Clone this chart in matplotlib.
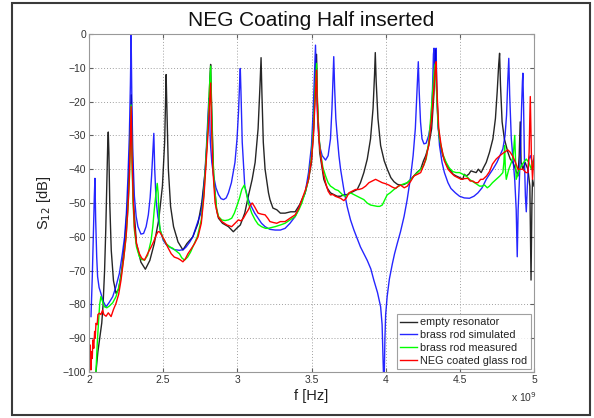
import matplotlib
matplotlib.use("Agg")
import matplotlib.pyplot as plt
from matplotlib.patches import Rectangle

plt.rcParams['font.family'] = ['Liberation Sans', 'DejaVu Sans']

# ---------------- data (f in GHz, S12 in dB) ----------------
black_f = [2.047, 2.06, 2.075, 2.086, 2.095, 2.105, 2.113, 2.12, 2.126, 2.13, 2.134, 2.14, 2.15, 2.165, 2.182, 2.2, 2.22, 2.24, 2.26, 2.272, 2.28, 2.285, 2.29, 2.3, 2.32, 2.35, 2.38, 2.41, 2.44, 2.47, 2.495, 2.51, 2.517, 2.52, 2.524, 2.535, 2.55, 2.57, 2.6, 2.633, 2.66, 2.7, 2.735, 2.76, 2.785, 2.805, 2.815, 2.82, 2.826, 2.84, 2.86, 2.873, 2.9, 2.94, 2.973, 3.0, 3.02, 3.05, 3.074, 3.1, 3.12, 3.14, 3.153, 3.16, 3.166, 3.175, 3.187, 3.21, 3.22, 3.24, 3.266, 3.29, 3.322, 3.36, 3.39, 3.42, 3.457, 3.48, 3.5, 3.515, 3.527, 3.534, 3.54, 3.555, 3.583, 3.605, 3.628, 3.65, 3.673, 3.696, 3.718, 3.74, 3.763, 3.786, 3.808, 3.83, 3.853, 3.876, 3.898, 3.915, 3.925, 3.93, 3.936, 3.948, 3.966, 3.99, 4.011, 4.035, 4.056, 4.08, 4.1, 4.125, 4.146, 4.17, 4.19, 4.21, 4.236, 4.255, 4.27, 4.29, 4.31, 4.325, 4.333, 4.336, 4.342, 4.355, 4.37, 4.385, 4.41, 4.43, 4.455, 4.475, 4.5, 4.52, 4.53, 4.543, 4.56, 4.575, 4.588, 4.61, 4.625, 4.644, 4.66, 4.678, 4.7, 4.723, 4.74, 4.752, 4.762, 4.768, 4.774, 4.785, 4.8, 4.824, 4.84, 4.858, 4.875, 4.892, 4.9, 4.907, 4.913, 4.925, 4.94, 4.959, 4.972, 4.98, 4.986, 4.99, 5.0]
black_db = [-100, -94, -89, -85.5, -80, -70, -58, -45, -33, -29, -35, -50, -64, -73, -76.7, -75.5, -70, -62, -50, -38, -25, -18, -30, -50, -62, -67.5, -69.6, -67, -62, -55, -45, -32, -18, -12, -20, -40, -51, -57, -61.5, -63.9, -62, -60, -56, -50, -40, -25, -13, -9, -20, -42, -52, -54.5, -56, -57, -58.5, -57.3, -56.5, -53, -48, -43, -38, -28, -15, -7, -18, -32, -40, -47, -49, -51.5, -52, -53, -53, -52.6, -52.6, -50.5, -47, -43, -38, -28, -12, -6, -20, -35, -43, -45.5, -47, -47.5, -48, -48, -47.6, -47.5, -47, -46.5, -46, -44, -41, -37, -31, -22, -12, -5.5, -14, -25, -33, -37.5, -40, -42.5, -43.7, -44.5, -44.7, -44.5, -44, -43, -42, -41, -40, -37.5, -36, -33, -28, -18, -8, -4.7, -15, -28, -33, -36, -38.5, -40, -41.5, -42, -42.5, -43, -41.5, -42, -41.5, -40.5, -40.7, -41, -40, -41, -39.5, -38, -35, -31, -25, -17, -9, -5.7, -15, -26, -31, -35, -37, -38, -40, -42, -36, -26, -38, -40, -38, -40, -45, -72.8, -50, -43, -45]

blue_f = [2.0135, 2.022, 2.03, 2.036, 2.04, 2.045, 2.052, 2.058, 2.068, 2.08, 2.095, 2.115, 2.135, 2.16, 2.18, 2.205, 2.225, 2.24, 2.252, 2.262, 2.272, 2.279, 2.284, 2.289, 2.296, 2.306, 2.318, 2.33, 2.35, 2.368, 2.385, 2.4, 2.412, 2.422, 2.43, 2.437, 2.443, 2.452, 2.464, 2.48, 2.5, 2.52, 2.543, 2.575, 2.61, 2.635, 2.655, 2.68, 2.7, 2.73, 2.757, 2.775, 2.79, 2.8, 2.808, 2.812, 2.818, 2.828, 2.84, 2.856, 2.873, 2.89, 2.907, 2.925, 2.94, 2.96, 2.984, 2.998, 3.008, 3.015, 3.02, 3.025, 3.033, 3.05, 3.07, 3.094, 3.117, 3.14, 3.163, 3.187, 3.22, 3.255, 3.29, 3.322, 3.355, 3.39, 3.42, 3.457, 3.48, 3.5, 3.512, 3.522, 3.527, 3.533, 3.542, 3.55, 3.56, 3.572, 3.595, 3.612, 3.628, 3.638, 3.645, 3.65, 3.656, 3.664, 3.673, 3.685, 3.696, 3.718, 3.74, 3.763, 3.786, 3.808, 3.83, 3.853, 3.876, 3.9, 3.92, 3.945, 3.966, 3.976, 3.982, 3.986, 3.99, 3.995, 4.0, 4.01, 4.025, 4.045, 4.06, 4.078, 4.1, 4.124, 4.145, 4.169, 4.185, 4.2, 4.21, 4.217, 4.22, 4.226, 4.235, 4.245, 4.258, 4.273, 4.29, 4.306, 4.316, 4.322, 4.326, 4.33, 4.336, 4.34, 4.345, 4.352, 4.363, 4.38, 4.396, 4.42, 4.44, 4.47, 4.498, 4.53, 4.565, 4.595, 4.622, 4.65, 4.678, 4.7, 4.723, 4.75, 4.77, 4.79, 4.805, 4.815, 4.823, 4.83, 4.836, 4.847, 4.86, 4.87, 4.88, 4.887, 4.893, 4.9, 4.908, 4.916, 4.922, 4.925, 4.93, 4.936, 4.942, 4.948, 4.955, 4.965, 4.975, 4.99, 5.0]
blue_db = [-83.6, -72, -58, -48, -42.7, -55, -66, -71.8, -75, -76.7, -79, -80.7, -79.5, -77.7, -75, -70.8, -65, -60, -53, -43, -30, -15, -0.3, -20, -36, -48, -54, -57, -59.2, -59, -57, -53.5, -48.5, -42, -35, -29.4, -40, -49, -54, -58, -61, -62.3, -63, -63.8, -64, -63.8, -63, -61.5, -60, -56, -52.6, -45, -35, -26, -19, -22, -32, -38, -42, -45.5, -47.5, -48.7, -49, -48.5, -47, -44, -38, -31, -23, -15, -10.2, -18, -32, -45, -48.5, -51, -53, -54.5, -56, -57, -57.8, -58, -58, -57.5, -56, -54, -51, -47, -41, -33, -22, -10, -3.3, -15, -26, -31, -34, -36, -37.3, -36, -31, -22, -13, -6.7, -16, -25, -30, -36, -40, -46, -51, -55, -58, -60.5, -63, -65, -67, -69.5, -72.8, -76.5, -80.7, -86, -95, -102, -102, -90, -83, -77.7, -72.5, -68, -65, -62, -58.5, -54, -49, -42, -36, -28, -18, -11, -8.2, -17, -26, -31, -32.5, -32.3, -30, -26, -16, -6, -4.2, -12, -10, -4.2, -16, -26, -33, -38, -41, -44, -45.7, -47, -48, -48.5, -48.6, -48, -47, -45.5, -43, -41.5, -40, -38, -36, -34, -30, -24, -14, -7.2, -18, -31, -38, -43, -52, -65.9, -52, -45, -35, -22, -14, -11.6, -22, -38, -48, -52.6, -45, -37, -36, -38, -38]

green_f = [2.047, 2.055, 2.065, 2.072, 2.08, 2.09, 2.104, 2.12, 2.137, 2.16, 2.182, 2.2, 2.216, 2.235, 2.25, 2.262, 2.272, 2.278, 2.284, 2.29, 2.297, 2.306, 2.32, 2.34, 2.355, 2.374, 2.395, 2.419, 2.43, 2.44, 2.452, 2.46, 2.466, 2.473, 2.48, 2.5, 2.52, 2.545, 2.565, 2.59, 2.61, 2.625, 2.644, 2.665, 2.685, 2.7, 2.73, 2.757, 2.775, 2.79, 2.803, 2.813, 2.82, 2.826, 2.835, 2.845, 2.86, 2.873, 2.895, 2.917, 2.94, 2.962, 2.98, 2.996, 3.015, 3.03, 3.047, 3.06, 3.074, 3.097, 3.12, 3.14, 3.163, 3.19, 3.21, 3.235, 3.255, 3.29, 3.322, 3.355, 3.39, 3.415, 3.435, 3.46, 3.48, 3.5, 3.513, 3.524, 3.534, 3.54, 3.55, 3.56, 3.577, 3.595, 3.612, 3.628, 3.645, 3.66, 3.68, 3.696, 3.715, 3.73, 3.745, 3.763, 3.785, 3.808, 3.83, 3.853, 3.875, 3.898, 3.92, 3.944, 3.96, 3.977, 3.995, 4.01, 4.03, 4.056, 4.078, 4.1, 4.125, 4.146, 4.17, 4.19, 4.215, 4.236, 4.255, 4.273, 4.29, 4.306, 4.32, 4.33, 4.336, 4.342, 4.352, 4.363, 4.385, 4.408, 4.43, 4.453, 4.475, 4.498, 4.52, 4.543, 4.565, 4.588, 4.61, 4.633, 4.65, 4.667, 4.685, 4.7, 4.72, 4.745, 4.77, 4.79, 4.797, 4.802, 4.807, 4.813, 4.83, 4.847, 4.86, 4.87, 4.876, 4.88, 4.895, 4.914, 4.93, 4.948, 4.965, 4.982, 4.992, 5.0]
green_db = [-100, -92, -84.6, -80, -77.7, -79, -80.7, -81, -80.5, -79.5, -77.7, -75, -71.8, -66, -60, -52, -43, -33, -21, -38, -50, -58, -63, -65.9, -66.7, -66.9, -65.5, -61, -57, -52, -47, -44.2, -47, -55, -58, -60.5, -62, -63, -63.4, -64.3, -65, -66.2, -66.9, -66, -64.5, -63, -60, -55, -47, -36, -26, -15, -9.5, -22, -36, -45, -51.5, -54, -55, -55.2, -55, -54.5, -53, -51, -48.5, -46, -44.7, -47, -50, -53, -55, -56.3, -57, -57.5, -57.5, -57.2, -57, -56.5, -56, -55, -54, -52, -50, -46.5, -43, -36, -28, -17, -8.7, -20, -30, -35, -39.5, -42, -44, -45, -45.5, -46, -46.3, -47, -47.8, -48, -47.5, -47, -47.5, -48, -48.5, -49, -50, -50.6, -50.8, -51, -51, -50.6, -49, -47.6, -47, -46, -45.3, -44.7, -44.3, -44, -43, -42, -41, -40, -39, -37, -32, -23.5, -15, -9.5, -8.7, -16, -26, -31, -35.5, -38, -39.7, -40.7, -41, -41, -41.5, -42, -43, -43.7, -44.3, -45, -45, -44.7, -45.5, -45, -44, -43, -42, -41, -38, -33, -40, -43, -40, -38, -36, -30, -38, -43, -41, -39, -38, -37, -38, -40, -38, -37]

red_f = [2.0, 2.004, 2.008, 2.013, 2.018, 2.022, 2.026, 2.032, 2.038, 2.042, 2.047, 2.055, 2.06, 2.07, 2.08, 2.092, 2.1, 2.115, 2.13, 2.149, 2.165, 2.182, 2.2, 2.216, 2.235, 2.25, 2.262, 2.272, 2.278, 2.284, 2.29, 2.297, 2.306, 2.32, 2.34, 2.355, 2.374, 2.395, 2.419, 2.435, 2.453, 2.465, 2.475, 2.49, 2.509, 2.53, 2.554, 2.575, 2.6, 2.615, 2.633, 2.65, 2.667, 2.69, 2.712, 2.735, 2.757, 2.775, 2.79, 2.803, 2.813, 2.82, 2.826, 2.835, 2.85, 2.87, 2.896, 2.93, 2.962, 2.985, 3.007, 3.025, 3.041, 3.06, 3.074, 3.09, 3.1, 3.115, 3.14, 3.163, 3.187, 3.205, 3.22, 3.245, 3.266, 3.29, 3.322, 3.355, 3.39, 3.415, 3.435, 3.46, 3.48, 3.5, 3.513, 3.524, 3.534, 3.54, 3.55, 3.56, 3.577, 3.595, 3.612, 3.628, 3.645, 3.66, 3.678, 3.696, 3.718, 3.735, 3.752, 3.775, 3.797, 3.82, 3.842, 3.865, 3.887, 3.91, 3.932, 3.955, 3.977, 4.0, 4.022, 4.045, 4.067, 4.085, 4.1, 4.125, 4.146, 4.17, 4.19, 4.215, 4.236, 4.255, 4.27, 4.29, 4.31, 4.325, 4.335, 4.34, 4.346, 4.358, 4.374, 4.395, 4.42, 4.44, 4.464, 4.487, 4.509, 4.53, 4.554, 4.57, 4.588, 4.605, 4.622, 4.64, 4.656, 4.68, 4.7, 4.72, 4.745, 4.77, 4.79, 4.81, 4.824, 4.84, 4.858, 4.875, 4.892, 4.91, 4.925, 4.945, 4.959, 4.967, 4.975, 4.982, 4.99, 5.0]
red_db = [-93.5, -97, -92, -99.4, -94, -96, -90.5, -93, -88, -90, -85.6, -86, -83, -82.6, -83, -81.7, -83, -83.5, -82.5, -83.6, -81.5, -79.7, -77, -72.8, -66, -60, -52, -43, -33, -21.5, -36, -48, -57, -62, -65, -66.3, -66.9, -65, -63, -61.5, -59.5, -58.5, -58.5, -59.5, -61, -63, -65, -66, -66.4, -66.8, -67.4, -66.5, -65, -63.5, -62, -60, -56, -48, -38, -29, -20, -14.5, -27, -40, -50, -54, -55.5, -56.5, -57, -56, -55, -55.3, -54.5, -53, -52, -50.5, -50, -51, -53, -53.3, -53.5, -54.5, -55.5, -55.8, -56, -55.5, -55.5, -54.5, -53.5, -51.5, -49, -46, -43, -37, -30, -20, -10.7, -22, -31, -35.3, -40.5, -44, -46.5, -47.6, -47.5, -48, -48.3, -48.6, -49.3, -48.5, -47, -46.5, -46, -46, -45.7, -45, -44, -43.5, -43, -43.5, -44, -44.3, -44.7, -45.3, -45.7, -45, -44.7, -45.5, -45, -43.5, -42, -41.5, -41, -39, -37, -33, -25, -16, -10, -8.2, -17, -28, -33, -37.5, -40, -41, -42, -42.5, -43, -42.8, -42.7, -43.5, -43.5, -44, -44, -43, -43, -42, -40.7, -38.5, -37, -36, -35.3, -34.7, -34.3, -35, -36.3, -38, -40, -40, -40, -41, -41, -35, -18.5, -35, -43, -36]

series_labels = ["empty resonator", "brass rod simulated", "brass rod measured", "NEG coated glass rod"]
x_ticks = [2, 2.5, 3, 3.5, 4, 4.5, 5]
x_ticklabels = ["2", "2.5", "3", "3.5", "4", "4.5", "5"]
y_ticks = [0, -10, -20, -30, -40, -50, -60, -70, -80, -90, -100]

# ---------------- figure ----------------
W, H = 594, 418
fig = plt.figure(figsize=(W / 100, H / 100), dpi=100)
fig.patch.set_facecolor('white')
fig.patches.append(Rectangle((12 / W, 3 / H), (590 - 12) / W, (415 - 3) / H,
                             transform=fig.transFigure, fill=False,
                             edgecolor='#3a3a3a', lw=1.5))

ax = fig.add_axes([89 / W, 1 - 372 / H, (534 - 89) / W, (372 - 34) / H])

lw = 1.0
ax.plot(black_f, black_db, color='black', lw=lw, label=series_labels[0], alpha=0.85)
ax.plot(blue_f, blue_db, color='#0000ff', lw=lw, label=series_labels[1], alpha=0.85)
ax.plot(green_f, green_db, color='#00ff00', lw=lw, label=series_labels[2])
ax.plot(red_f, red_db, color='#ff0000', lw=lw, label=series_labels[3])

ax.set_xlim(2, 5)
ax.set_ylim(-100, 0)
ax.set_xticks(x_ticks)
ax.set_xticklabels(x_ticklabels)
ax.set_yticks(y_ticks)
ax.grid(True, linestyle=(0, (1, 2)), color='#a0a0a0', lw=0.7)
ax.tick_params(direction='in', length=3, colors='#606060', labelcolor='#333333',
               labelsize=7.5, top=True, right=True, pad=2)
for s in ax.spines.values():
    s.set_color('#999999')
    s.set_linewidth(0.8)

ax.set_title("NEG Coating Half inserted", fontsize=15, color='#111111', pad=6)
ax.set_xlabel("f [Hz]", fontsize=10.5, color='#222222', labelpad=3)
ax.set_ylabel("S$_{12}$ [dB]", fontsize=10.5, color='#222222', labelpad=7)
fig.text(511 / W, 1 - 397 / H, "x 10$^{9}$", fontsize=7.5, color='#333333',
         va='center', ha='left')

leg = ax.legend(loc='lower right', bbox_to_anchor=(1.0, 0.0), fontsize=7.8,
                frameon=True, fancybox=False, handlelength=1.6, handletextpad=0.3,
                borderpad=0.3, labelspacing=0.25, borderaxespad=0.3)
leg.get_frame().set_edgecolor('#888888')
leg.get_frame().set_linewidth(0.8)
for t in leg.get_texts():
    t.set_color('#222222')

fig.savefig("out.png", dpi=100)
